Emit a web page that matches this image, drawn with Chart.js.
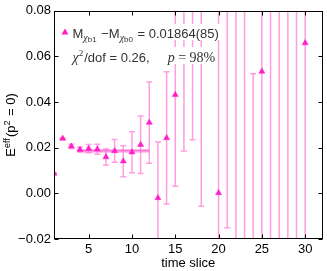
<!DOCTYPE html>
<html><head><meta charset="utf-8">
<script src="https://cdn.jsdelivr.net/npm/chart.js@4"></script>
<style>html,body{margin:0;padding:0;background:#fff}#wrap{width:327px;height:271px;position:relative}</style>
</head><body><div id="wrap"><canvas id="c" width="327" height="271" style="width:327px;height:271px"></canvas></div>
<script>
const timeSlices = [1,2,3,4,5,6,7,8,9,10,11,12,13,14,15,16,17,18,19,20,21,22,23,24,25,26,27,28,29,30];
const effMass = [0.0087,0.0240,0.0206,0.0192,0.0196,0.0193,0.0159,0.0186,0.0141,0.0180,0.0213,0.0310,-0.0020,0.0243,0.0432,0.0900,0.0850,0.0880,null,0.0002,0.0950,0.1100,-0.0500,-0.0350,0.0534,0.1200,-0.0600,0.1300,-0.0700,0.0659];
const effErr  = [0.0003,0.0003,0.0009,0.0010,0.0018,0.0022,0.0035,0.0050,0.0068,0.0090,0.0126,0.0178,0.0245,0.0290,0.0401,0.0714,0.0615,0.0936,null,0.0950,0.1101,0.1500,0.1500,0.0874,0.0900,0.1600,0.1600,0.1700,0.1700,0.1000];
const fitValue = 0.01864;
const fitError = 0.00085;
const fitRange = [3.7, 12];
const xTicks = [5,10,15,20,25,30];
const yTicks = [-0.02,0.00,0.02,0.04,0.06,0.08];

const SANS = '"Liberation Sans", Arial, Helvetica, sans-serif';
const SERIF = '"Liberation Serif", "DejaVu Serif", serif';
const MARK = '#ff1ec8';
const BAR = '#ff9ee0';

const points = timeSlices.map((t,i)=>({x:t,y:effMass[i]})).filter(p=>p.y!==null);

function drawRich(ctx, x, y, segs){
  let cx = x;
  for (const s of segs){
    ctx.font = s.f;
    ctx.fillText(s.t, cx, y + (s.dy||0));
    cx += ctx.measureText(s.t).width + (s.dx||0);
  }
  return cx;
}
function richWidth(ctx, segs){
  let w=0; for(const s of segs){ctx.font=s.f; w+=ctx.measureText(s.t).width+(s.dx||0);} return w;
}

const decor = {
  id:'decor',
  beforeDatasetsDraw(chart){
    const {ctx, chartArea:a, scales:{x,y}} = chart;
    ctx.save();
    ctx.beginPath(); ctx.rect(a.left, a.top, a.right-a.left, a.bottom-a.top); ctx.clip();
    ctx.strokeStyle = BAR; ctx.lineWidth = 1.5;
    timeSlices.forEach((t,i)=>{
      const v = effMass[i], e = effErr[i];
      if (v===null) return;
      const px = x.getPixelForValue(t);
      const yt = y.getPixelForValue(v+e), yb = y.getPixelForValue(v-e);
      ctx.beginPath(); ctx.moveTo(px, yt); ctx.lineTo(px, yb); ctx.stroke();
      ctx.beginPath(); ctx.moveTo(px-3, yt); ctx.lineTo(px+3, yt);
      ctx.moveTo(px-3, yb); ctx.lineTo(px+3, yb); ctx.stroke();
    });
    ctx.restore();
  },
  afterDraw(chart){
    const {ctx, chartArea:a, scales:{x,y}} = chart;
    ctx.save();
    ctx.fillStyle = '#333';
    const l1 = [
      {t:'M', f:'13px '+SANS},
      {t:'χ', f:'italic 10px '+SERIF, dy:3},
      {t:'b1', f:'8px '+SANS, dy:4, dx:1},
      {t:' −M', f:'13px '+SANS},
      {t:'χ', f:'italic 10px '+SERIF, dy:3},
      {t:'b0', f:'8px '+SANS, dy:4, dx:1},
      {t:' = 0.01864(85)', f:'13px '+SANS}
    ];
    const l2 = [
      {t:'χ', f:'italic 14px '+SERIF},
      {t:'2', f:'9px '+SERIF, dy:-6, dx:1},
      {t:'/dof = 0.26,', f:'13px '+SANS},
      {t:'     ', f:'13px '+SANS},
      {t:'p', f:'italic 14px '+SERIF},
      {t:' = 98%', f:'14px '+SERIF}
    ];
    const tx = 72.5;
    ctx.fillStyle = '#fff';
    ctx.fillRect(tx-2, 24, richWidth(ctx,l1)+4, 16);
    ctx.fillRect(tx-2, 47, richWidth(ctx,l2)+4, 17);
    ctx.fillStyle = '#333';
    drawRich(ctx, tx, 37.5, l1);
    drawRich(ctx, tx, 61.5, l2);
    ctx.fillStyle = MARK;
    ctx.beginPath(); ctx.moveTo(65, 28.5); ctx.lineTo(68.5, 34.5); ctx.lineTo(61.5, 34.5); ctx.closePath(); ctx.fill();

    ctx.strokeStyle = '#000'; ctx.lineWidth = 1;
    const L = Math.round(a.left)+0.5, R = Math.round(a.right)-0.5, T = Math.round(a.top)+0.5, B = Math.round(a.bottom)-0.5;
    ctx.strokeRect(L, T, R-L, B-T);
    ctx.beginPath();
    xTicks.forEach(v=>{const p=Math.round(x.getPixelForValue(v))+0.5; ctx.moveTo(p,B); ctx.lineTo(p,B-4); ctx.moveTo(p,T); ctx.lineTo(p,T+4);});
    yTicks.forEach(v=>{const p=Math.round(y.getPixelForValue(v))+0.5; ctx.moveTo(L,p); ctx.lineTo(L+4,p); ctx.moveTo(R,p); ctx.lineTo(R-4,p);});
    ctx.stroke();

    ctx.fillStyle = '#000';
    ctx.font = '13px '+SANS; ctx.textAlign='center'; ctx.textBaseline='alphabetic';
    ctx.fillText('time slice', (a.left+a.right)/2, 267);
    const yl = [
      {t:'E', f:'13px '+SANS},
      {t:'eff', f:'9px '+SANS, dy:-5, dx:1},
      {t:'(p', f:'13px '+SANS},
      {t:'2', f:'9px '+SANS, dy:-5, dx:1},
      {t:' = 0)', f:'13px '+SANS}
    ];
    ctx.textAlign='left';
    ctx.translate(15, (a.top+a.bottom)/2);
    ctx.rotate(-Math.PI/2);
    const w = richWidth(ctx, yl);
    drawRich(ctx, -w/2, 0, yl);
    ctx.restore();
  }
};

new Chart(document.getElementById('c'), {
  type:'scatter',
  data:{datasets:[
    {label:'points', data:points, pointStyle:'triangle', pointRadius:3.5, backgroundColor:MARK, borderColor:MARK, borderWidth:0.5, order:0},
    {type:'line', label:'fitCenter', data:[{x:fitRange[0],y:fitValue},{x:fitRange[1],y:fitValue}], borderColor:'#ff5fd0', borderWidth:1, pointRadius:0, order:1},
    {type:'line', label:'fitLow', data:[{x:fitRange[0],y:fitValue-fitError},{x:fitRange[1],y:fitValue-fitError}], borderWidth:0, borderColor:'rgba(0,0,0,0)', pointRadius:0, order:2},
    {type:'line', label:'fitHigh', data:[{x:fitRange[0],y:fitValue+fitError},{x:fitRange[1],y:fitValue+fitError}], borderWidth:0, borderColor:'rgba(0,0,0,0)', pointRadius:0, fill:2, backgroundColor:'rgba(255,110,215,0.5)', order:2}
  ]},
  options:{
    responsive:false, maintainAspectRatio:false, animation:false, devicePixelRatio:1,
    layout:{padding:{top:10, right:3, left:0, bottom:0}},
    plugins:{legend:{display:false}, tooltip:{enabled:false}},
    scales:{
      x:{type:'linear', min:1, max:32,
        afterBuildTicks(s){ s.ticks = xTicks.map(v=>({value:v})); },
        afterFit(s){ s.height = 32; },
        grid:{display:false, drawTicks:false}, border:{display:false},
        ticks:{font:{family:SANS, size:13}, color:'#000', padding:3, maxRotation:0, autoSkip:false, callback:v=>String(v)}
      },
      y:{type:'linear', min:-0.02, max:0.08,
        afterBuildTicks(s){ s.ticks = yTicks.map(v=>({value:v})); },
        afterFit(s){ s.width = 54; },
        grid:{display:false, drawTicks:false}, border:{display:false},
        ticks:{font:{family:SANS, size:13}, color:'#000', padding:3, autoSkip:false,
          callback:v=>{const s=Math.abs(v).toFixed(2); return (v< -1e-9?'−':'')+s;}}
      }
    }
  },
  plugins:[decor]
});
</script>
</body></html>
